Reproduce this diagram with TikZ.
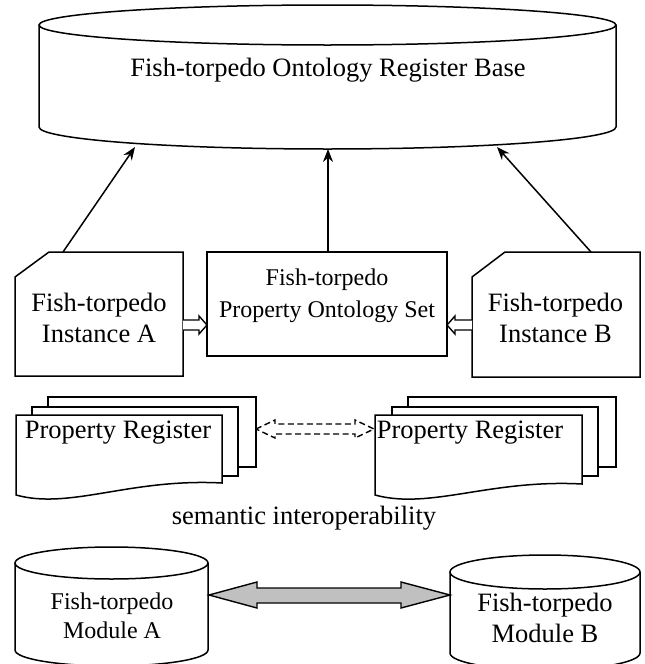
\documentclass[tikz,border=0pt]{standalone}
\usepackage{fontspec}
\setmainfont{Liberation Serif}
\usetikzlibrary{arrows.meta,calc}
\begin{document}
\begin{tikzpicture}[x=1pt,y=-1pt,line join=miter,
  shp/.style={draw=black,line width=1.5pt,fill=white},
  big/.style={font=\fontsize{26.5}{31}\selectfont,align=center,inner sep=0pt},
  small/.style={font=\fontsize{24}{32}\selectfont,align=center,inner sep=0pt},
  conn/.style={line width=1.5pt,-{Stealth[length=13pt,width=10pt]}},
  hollow/.style={line width=1.4pt,fill=white},
]
\useasboundingbox (0,0) rectangle (645,664);

% top register base (cylinder)
\draw[shp] (39,25) -- (39,127) arc[start angle=180,end angle=0,x radius=288.5,y radius=22] -- (616,25);
\draw[shp] (327.5,25) ellipse[x radius=288.5,y radius=20];
\node[big] (base) at (328,70) {Fish-torpedo Ontology Register Base};
\coordinate (baseL) at (135,147);
\coordinate (baseC) at (328,149);
\coordinate (baseR) at (497,147);

% instance A
\draw[shp] (15,277) -- (49,252) -- (183,252) -- (183,376) -- (15,376) -- cycle;
\node[big] (instA) at (99,317.5) {Fish-torpedo\\Instance A};
\coordinate (instAtop) at (63,252);
\coordinate (instAR) at (183,325);

% property ontology set
\draw[shp] (207,252) rectangle (447,356);
\node[small] (pos) at (327,296) {Fish-torpedo\\Property Ontology Set};
\coordinate (posTop) at (328,252);
\coordinate (posL) at (207,325);
\coordinate (posR) at (447,325);

% instance B
\draw[shp] (472,277) -- (505,252) -- (640,252) -- (640,377) -- (472,377) -- cycle;
\node[big] (instB) at (555.5,317.5) {Fish-torpedo\\Instance B};
\coordinate (instBtop) at (591,252);
\coordinate (instBL) at (472,325);

% connectors
\draw[conn] (instAtop) -- (baseL);
\draw[conn] (posTop) -- (baseC);
\draw[conn] (instBtop) -- (baseR);
\draw[hollow] ($(instAR)+(0,-5)$) -- ($(posL)+(-8,-5)$) -- ($(posL)+(-8,-9)$) -- (posL)
  -- ($(posL)+(-8,9)$) -- ($(posL)+(-8,5)$) -- ($(instAR)+(0,5)$);
\draw[hollow] ($(instBL)+(0,-5)$) -- ($(posR)+(8,-5)$) -- ($(posR)+(8,-9)$) -- (posR)
  -- ($(posR)+(8,9)$) -- ($(posR)+(8,5)$) -- ($(instBL)+(0,5)$);

% property register stacks
\draw[shp] (48,397) rectangle (256,467);
\draw[shp] (32,407) rectangle (238,476);
\draw[shp] (16,415) -- (222,415) -- (222,483) .. controls (130,478) and (70,510) .. (16,495) -- cycle;
\node[big] (prL) at (118,433) {Property Register};
\coordinate (prLR) at (256,429);

\draw[shp] (408,397) rectangle (616,467);
\draw[shp] (392,407) rectangle (598,476);
\draw[shp] (375,415) -- (582,415) -- (582,484) .. controls (490,479) and (430,510) .. (375,495) -- cycle;
\node[big] (prR) at (470,433) {Property Register};
\coordinate (prRL) at (374,429);

% dashed double hollow arrow
\draw[line width=1.4pt,dash pattern=on 6pt off 3.5pt]
  (prLR) -- ($(prLR)+(19,-9)$) -- ($(prLR)+(19,-5)$) -- ($(prRL)+(-19,-5)$) -- ($(prRL)+(-19,-9)$)
  -- (prRL) -- ($(prRL)+(-19,9)$) -- ($(prRL)+(-19,5)$) -- ($(prLR)+(19,5)$) -- ($(prLR)+(19,9)$) -- cycle;

\node[big] (sem) at (304,518) {semantic interoperability};

% modules
\draw[shp] (15,563) -- (15,650) arc[start angle=180,end angle=0,x radius=96.5,y radius=16] -- (208,563);
\draw[shp] (111.5,563) ellipse[x radius=96.5,y radius=16];
\node[font=\fontsize{24}{29}\selectfont,align=center,inner sep=0pt] (modA) at (112,615.5) {Fish-torpedo\\Module A};
\coordinate (modAR) at (209,595);

\draw[shp] (450,572) -- (450,653) arc[start angle=180,end angle=0,x radius=95,y radius=17] -- (640,572);
\draw[shp] (545,572) ellipse[x radius=95,y radius=17];
\node[big] (modB) at (545,618) {Fish-torpedo\\Module B};
\coordinate (modBL) at (450,595);

\draw[line width=1.4pt,fill={rgb,255:red,192;green,192;blue,192}]
  (modAR) -- ($(modAR)+(48,-13)$) -- ($(modAR)+(48,-7)$) -- ($(modBL)+(-49,-7)$) -- ($(modBL)+(-49,-13)$)
  -- (modBL) -- ($(modBL)+(-49,13)$) -- ($(modBL)+(-49,8)$) -- ($(modAR)+(48,8)$) -- ($(modAR)+(48,13)$) -- cycle;
\end{tikzpicture}
\end{document}
